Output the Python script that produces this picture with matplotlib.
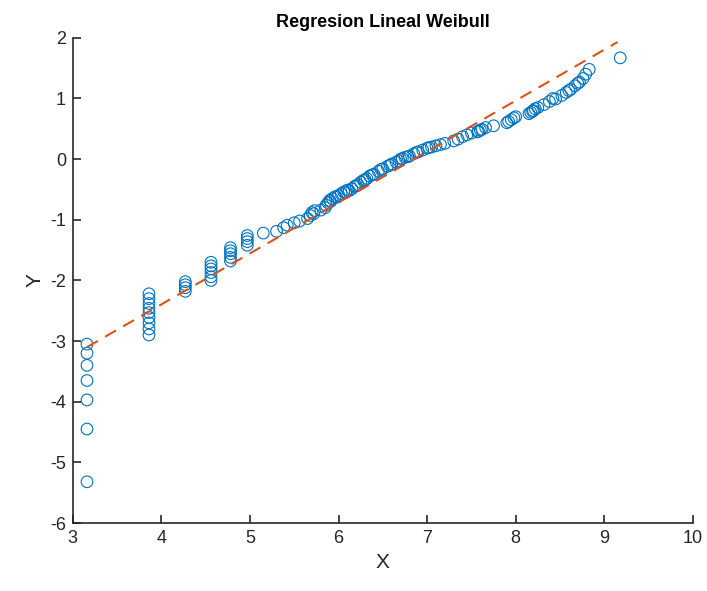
import matplotlib
matplotlib.use('Agg')
import numpy as np
import matplotlib.pyplot as plt

# === data ===
x_pts = [3.16] * 7 + [3.86] * 9 + [4.27] * 4 + [4.56] * 6 + [4.78] * 5 + [4.97] * 4 + [
    5.15, 5.30, 5.38, 5.42, 5.50, 5.56, 5.65, 5.68, 5.70, 5.73, 5.80, 5.85, 5.88, 5.90,
    5.93, 5.96, 6.00, 6.03, 6.06, 6.10, 6.15, 6.18, 6.22, 6.25, 6.28, 6.32, 6.35, 6.40,
    6.45, 6.50, 6.55, 6.60, 6.65, 6.70, 6.75, 6.80, 6.85, 6.90, 6.95, 7.00, 7.05, 7.10,
    7.20, 7.30, 7.35, 7.40, 7.45, 7.50, 7.58, 7.62, 7.66, 7.75, 7.90, 7.95, 8.00, 8.15,
    8.20, 8.25, 8.32, 8.38, 8.42, 8.52, 8.57, 8.62, 8.67, 8.72, 8.76, 8.79, 8.83, 9.18,
    # extra overlapping points in the dense stretch
    5.72, 5.86, 5.91, 5.98, 6.08, 6.12, 6.20, 6.30, 6.38, 6.48, 6.58, 6.68, 6.72, 6.78,
    6.88, 7.02, 7.15, 7.57, 7.60, 7.92, 7.98, 8.17, 8.19, 8.22, 8.45, 8.60, 8.70]
y_pts = [-3.05, -3.20, -3.40, -3.65, -3.97, -4.45, -5.32,
         -2.22, -2.30, -2.38, -2.46, -2.53, -2.61, -2.70, -2.80, -2.90,
         -2.02, -2.07, -2.12, -2.18,
         -1.70, -1.76, -1.81, -1.87, -1.94, -2.00,
         -1.46, -1.51, -1.56, -1.62, -1.68,
         -1.26, -1.31, -1.36, -1.42] + [
    -1.22, -1.19, -1.13, -1.09, -1.05, -1.02, -0.98, -0.93, -0.88, -0.85, -0.84, -0.80,
    -0.72, -0.68, -0.65, -0.62, -0.60, -0.57, -0.54, -0.51, -0.49, -0.45, -0.42, -0.38,
    -0.35, -0.32, -0.28, -0.25, -0.20, -0.16, -0.12, -0.08, -0.05, 0.00, 0.03, 0.05,
    0.09, 0.12, 0.15, 0.18, 0.20, 0.22, 0.26, 0.30, 0.33, 0.37, 0.40, 0.43, 0.46, 0.49,
    0.52, 0.55, 0.60, 0.65, 0.70, 0.75, 0.80, 0.85, 0.90, 0.95, 1.00, 1.05, 1.10, 1.15,
    1.21, 1.27, 1.33, 1.40, 1.48, 1.67,
    -0.90, -0.76, -0.70, -0.63, -0.55, -0.52, -0.44, -0.34, -0.26, -0.17, -0.10, -0.03,
    0.01, 0.04, 0.11, 0.19, 0.24, 0.45, 0.48, 0.62, 0.68, 0.77, 0.79, 0.83, 0.99, 1.13, 1.25]
line_x = [3.16, 9.15]
line_y = [-3.10, 1.93]

blue = (0.0, 0.447, 0.741)
orange = (0.85, 0.325, 0.098)
txt = (0.15, 0.15, 0.15)

plt.rcParams['font.family'] = ['Liberation Sans', 'DejaVu Sans']
plt.rcParams['axes.unicode_minus'] = False

fig = plt.figure(figsize=(7.07, 5.91), dpi=100)
ax = fig.add_axes([0.103, 0.115, 0.877, 0.821])

ax.scatter(x_pts, y_pts, s=70, facecolors='none', edgecolors=blue, linewidths=0.8)
ax.plot(line_x, line_y, linestyle=(0, (6, 4)), color=orange, linewidth=1.5)

ax.set_xlim(3, 10)
ax.set_ylim(-6, 2)
ax.set_xticks(range(3, 11))
ax.set_yticks(range(-6, 3))
for s in ['top', 'right']:
    ax.spines[s].set_visible(False)
for s in ['left', 'bottom']:
    ax.spines[s].set_color(txt)
    ax.spines[s].set_linewidth(1.2)
ax.tick_params(direction='in', length=6, width=1.2, colors=txt, labelsize=13, pad=5)
ax.set_xlabel("X", fontsize=15, color=txt)
ax.set_ylabel("Y", fontsize=15, color=txt)
ax.set_title("Regresion Lineal Weibull", fontsize=13, fontweight='bold', color='black', pad=8)

fig.savefig("out.png", dpi=100)
